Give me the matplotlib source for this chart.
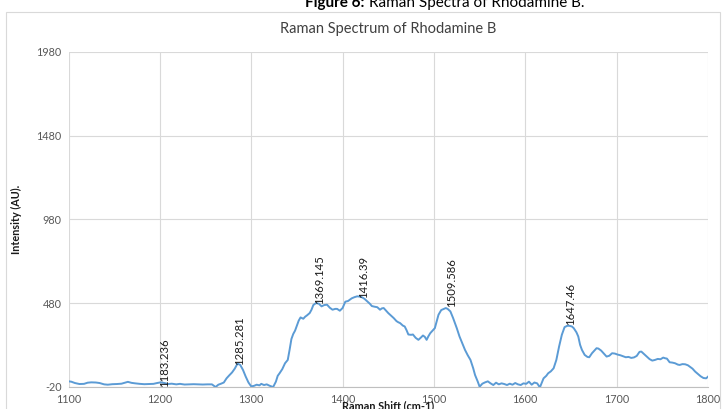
import matplotlib
matplotlib.use("Agg")
import matplotlib.pyplot as plt
from matplotlib.patches import Rectangle

plt.rcParams['font.family'] = ['Lato', 'DejaVu Sans']
plt.rcParams['axes.unicode_minus'] = False

# ---- data ----
shift = [1100, 1103, 1107, 1112, 1117, 1121, 1125, 1130, 1134, 1139, 1143, 1148, 1153, 1158,
         1162, 1165, 1169, 1173, 1178, 1183, 1188, 1193, 1197, 1201, 1205, 1209, 1213, 1218,
         1222, 1227, 1232, 1237, 1242, 1247, 1252, 1257, 1261, 1264, 1267, 1270, 1273, 1276,
         1279, 1282, 1285, 1288, 1291, 1294, 1297, 1300, 1303, 1306, 1309, 1311, 1314, 1317,
         1320, 1324, 1327, 1329, 1331, 1334, 1337, 1340, 1342, 1344, 1346, 1348, 1350, 1352,
         1354, 1357, 1359, 1361, 1364, 1366, 1368, 1371, 1374, 1377, 1380, 1383, 1386, 1389,
         1392, 1394, 1397, 1400, 1403, 1406, 1410, 1413, 1416, 1419, 1421, 1424, 1427, 1430,
         1432, 1435, 1438, 1441, 1443, 1445, 1448, 1450, 1453, 1456, 1459, 1461, 1463, 1466,
         1468, 1470, 1472, 1475, 1477, 1480, 1483, 1486, 1488, 1490, 1492, 1494, 1496, 1499,
         1501, 1503, 1505, 1508, 1511, 1513, 1515, 1518, 1521, 1525, 1528, 1531, 1534, 1537,
         1540, 1543, 1545, 1548, 1550, 1553, 1556, 1559, 1562, 1565, 1568, 1571, 1574, 1577,
         1580, 1583, 1586, 1589, 1592, 1595, 1598, 1601, 1604, 1607, 1610, 1613, 1616, 1620,
         1623, 1625, 1628, 1631, 1634, 1637, 1640, 1643, 1646, 1648, 1651, 1653, 1656, 1658,
         1660, 1662, 1665, 1668, 1670, 1673, 1675, 1678, 1680, 1683, 1686, 1689, 1692, 1695,
         1698, 1701, 1704, 1707, 1710, 1713, 1716, 1719, 1722, 1725, 1727, 1730, 1733, 1736,
         1739, 1742, 1745, 1748, 1751, 1753, 1755, 1758, 1761, 1764, 1767, 1769, 1772, 1775,
         1778, 1780, 1783, 1786, 1789, 1792, 1795, 1798, 1800]
intensity = [12, 10, 2, -4, -3, 4, 6, 5, 2, -6, -8, -5, -4, -2,
             4, 9, 3, 0, -3, -5, -4, -3, 2, 6, 2, -4, -2, -6,
             -3, -7, -6, -5, -6, -7, -6, -6, -22, -8, -2, 5, 30, 48,
             65, 88, 118, 110, 80, 40, 5, -18, -15, -8, -12, -3, -10, -6,
             -14, -22, 10, 45, 60, 85, 120, 140, 200, 265, 295, 315, 345, 375,
             394, 386, 398, 406, 420, 440, 468, 480, 476, 460, 468, 470, 452, 440,
             445, 445, 434, 450, 488, 492, 508, 515, 520, 518, 515, 505, 490, 475,
             462, 458, 455, 440, 448, 450, 432, 420, 405, 390, 372, 365, 360, 345,
             340, 318, 292, 290, 292, 272, 260, 275, 286, 278, 260, 282, 300, 318,
             330, 370, 410, 438, 445, 450, 445, 430, 390, 330, 280, 240, 200, 168,
             140, 90, 50, 10, -20, -2, 6, 12, 0, -10, 4, -6, 0, -4,
             -10, -2, -8, 2, -6, -10, 0, -3, 10, -8, 5, 0, -24, 30,
             45, 60, 72, 90, 140, 220, 290, 336, 344, 344, 340, 330, 305, 280,
             230, 200, 170, 158, 156, 180, 192, 210, 208, 196, 178, 160, 165, 180,
             178, 172, 168, 162, 156, 158, 152, 155, 164, 188, 190, 175, 160, 145,
             136, 140, 146, 144, 154, 150, 148, 126, 124, 120, 112, 110, 115, 114,
             108, 100, 88, 70, 56, 42, 32, 30, 40]

peak_labels = ["1183.236", "1285.281", "1369.145", "1416.39", "1509.586", "1647.46"]
peak_x = [1205, 1287, 1375, 1423, 1519, 1650]
peak_y = [-20, 112, 472, 512, 458, 348]

x_ticks = [1100, 1200, 1300, 1400, 1500, 1600, 1700, 1800]
y_ticks = [-20, 480, 980, 1480, 1980]

# ---- figure ----
fig = plt.figure(figsize=(7.23, 4.09), dpi=100)
W, H = 723, 409
ax = fig.add_axes([68.5 / W, 1 - 386.7 / H, (708 - 68.5) / W, (386.7 - 52) / H])

# chart border
fig.patches.append(Rectangle((6 / W, -0.05), (720 - 6) / W, 1.05 - 12 / H,
                             transform=fig.transFigure, fill=False,
                             edgecolor='#d9d9d9', linewidth=0.8))

ax.plot(shift, intensity, color='#5B9BD5', linewidth=1.4, zorder=3)

for lab, px, py in zip(peak_labels, peak_x, peak_y):
    ax.text(px, py, lab, rotation=90, ha='center', va='bottom',
            fontsize=8.2, color='#1a1a1a', zorder=4)

ax.set_xlim(1100, 1800)
ax.set_ylim(-20, 1980)
ax.set_xticks(x_ticks)
ax.set_yticks(y_ticks)
ax.grid(True, color='#d9d9d9', linewidth=0.8)
ax.set_axisbelow(True)
for s in ['top', 'right', 'left']:
    ax.spines[s].set_visible(False)
ax.spines['bottom'].set_color('#bfbfbf')
ax.spines['bottom'].set_linewidth(0.8)
ax.tick_params(length=0, labelsize=7.8, labelcolor='#595959', pad=5)

ax.set_title("Raman Spectrum of Rhodamine B", fontsize=10.5, color='#404040', pad=14)
ax.set_ylabel("Intensity (AU).", fontsize=7.8, fontweight='bold', color='#1a1a1a', labelpad=10)
ax.set_xlabel("Raman Shift (cm-1)", fontsize=7.8, fontweight='bold', color='#1a1a1a', labelpad=-3)

# clipped top caption (bold part + regular part)
t1 = fig.text(305 / W, 1 - 7.5 / H, "Figure 6:", fontsize=11, fontweight='bold',
              color='black', ha='left', va='baseline')
fig.canvas.draw()
bb = t1.get_window_extent(renderer=fig.canvas.get_renderer())
fig.text(bb.x1 / W + 5 / W, 1 - 7.5 / H, "Raman Spectra of Rhodamine B.", fontsize=11,
         color='black', ha='left', va='baseline')

fig.savefig("out.png", dpi=100)
